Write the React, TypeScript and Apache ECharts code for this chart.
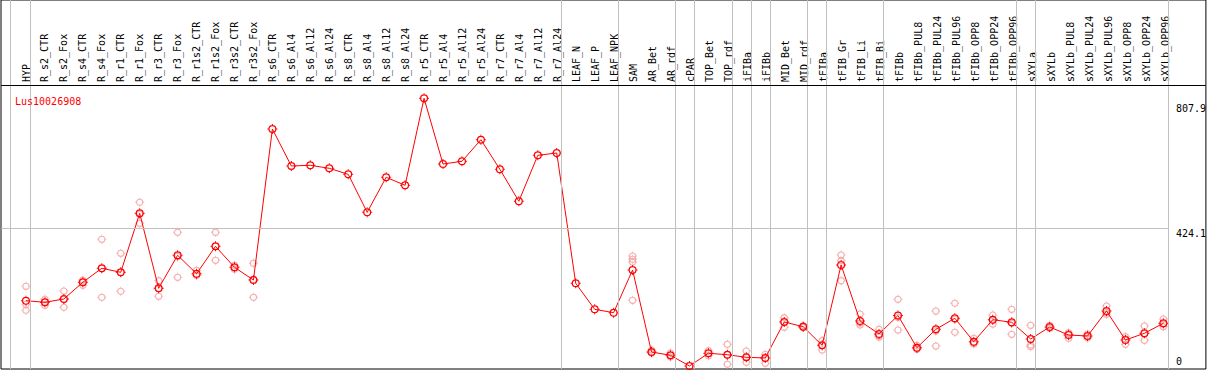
import React, { useEffect, useRef } from "react";
import * as echarts from "echarts";

const title = "Lus10026908";

const categories = [
  "HYP", "R_s2_CTR", "R_s2_Fox", "R_s4_CTR", "R_s4_Fox", "R_r1_CTR", "R_r1_Fox", "R_r3_CTR", "R_r3_Fox",
  "R_r1s2_CTR", "R_r1s2_Fox", "R_r3s2_CTR", "R_r3s2_Fox", "R_s6_CTR", "R_s6_Al4", "R_s6_Al12", "R_s6_Al24",
  "R_s8_CTR", "R_s8_Al4", "R_s8_Al12", "R_s8_Al24", "R_r5_CTR", "R_r5_Al4", "R_r5_Al12", "R_r5_Al24",
  "R_r7_CTR", "R_r7_Al4", "R_r7_Al12", "R_r7_Al24", "LEAF_N", "LEAF_P", "LEAF_NPK", "SAM", "AR_Bet", "AR_rdf",
  "cPAR", "TOP_Bet", "TOP_rdf", "iFIBa", "iFIBb", "MID_Bet", "MID_rdf", "tFIBa", "tFIB_Gr", "tFIB_Li", "tFIB_Bi",
  "tFIBb", "tFIBb_PUL8", "tFIBb_PUL24", "tFIBb_PUL96", "tFIBb_OPP8", "tFIBb_OPP24", "tFIBb_OPP96",
  "sXYLa", "sXYLb", "sXYLb_PUL8", "sXYLb_PUL24", "sXYLb_PUL96", "sXYLb_OPP8", "sXYLb_OPP24", "sXYLb_OPP96",
];

const meanValues = [
  201.4, 196.4, 206.6, 258.1, 301.3, 288.9, 470.9, 239.6, 341.4, 284.6, 369.1, 304.3, 265.2,
  730.8, 616.7, 618.9, 609.6, 591.1, 473.9, 581.9, 557.2, 825.5, 622.9, 631.2, 697.8, 606.5, 507.9, 649.7, 656.8,
  255.0, 174.8, 164.4, 296.0,
  43.2, 33.0, 0, 39.2, 34.8, 26.8, 24.7, 135.7, 121.2, 63.8, 311.4, 138.8, 98.7,
  155.7, 56.4, 113.2, 147.1, 74.9, 142.8, 134.8, 83.3, 120.3, 95.6, 92.5, 169.6, 80.2, 100.8, 131.7,
];

const replicateValues: number[][] = [
  [245.8, 190, 171.8], [205.7, 197, 187.2], [231.3, 206, 181.0], [265.2, 259, 248.8],
  [390.7, 301, 211.8], [347.5, 289, 230.3], [504.8, 468, 440.0], [263.0, 240, 214.9],
  [412.3, 338, 273.5], [295.1, 280, 279.7], [412.3, 369, 325.9], [310.5, 304, 298.2],
  [316.7, 267, 211.8],
  [], [], [], [], [], [], [], [], [], [], [], [], [], [], [], [], [], [], [],
  [339.2, 329.0, 320.7, 202.6],
  [49.3, 43, 40.1], [40.1, 33, 27.8], [], [47.2, 39, 31.8], [66.9, 34.8, 5.2],
  [46.3, 26.8, 11.4], [36.1, 24.7, 8.3], [148.9, 136, 119.3], [124.9, 121, 118.7],
  [78.0, 64, 49.3], [342.3, 324.7, 263.0], [160.3, 132.6, 126.4], [113.2, 93.4, 89.4],
  [205.7, 150.4, 111.0], [63.2, 54, 52], [169.6, 108.3, 61.7], [193.3, 144.1, 103.9],
  [85.4, 71.5, 67.8], [157.3, 141.6, 129.5], [174.8, 131.9, 97.7],
  [125.5, 64.9, 59.5], [125.5, 119.2, 116.2], [102.7, 98.7, 85.4], [98.7, 92.5, 86.3],
  [185.0, 164.4, 159.4], [90.3, 83.4, 66.9], [123.3, 99.9, 79.2], [144.9, 129, 121.2],
];

const groupEnds = [
  "HYP", "R_r7_Al24", "LEAF_NPK", "AR_rdf", "cPAR", "TOP_rdf", "iFIBa", "iFIBb",
  "MID_rdf", "tFIBa", "tFIB_Bi", "tFIBb_OPP96", "sXYLa", "sXYLb_OPP96",
];

const yTickLabels = [0, 424.1, 807.9];
const referenceLine = 424.1;

// layout (pixels)
const W = 1209;
const H = 370;
const frameL = 1, frameR = 1208, frameT = 0, frameB = 369;
const catStart = 26;
const catStep = 18.99;
const zeroPx = 366;
const pxPerUnit = 0.3243;
const headerPx = 85;
const sepOffset = 0.237;
const leadSepPx = 10.5;

const MARKER =
  "path://M1 5A4 4 0 1 1 9 5A4 4 0 1 1 1 5ZM2.2 5A2.8 2.8 0 1 0 7.8 5A2.8 2.8 0 1 0 2.2 5Z" +
  "M4.5 0H5.5V1.2H4.5ZM4.5 8.8H5.5V10H4.5ZM0 4.5H1.2V5.5H0ZM8.8 4.5H10V5.5H8.8Z";

const FONT = "DejaVu Sans Mono";

export default function App() {
  const ref = useRef<HTMLDivElement>(null);
  useEffect(() => {
    document.body.style.margin = "0";
    if (!ref.current) return;
    const chart = echarts.init(ref.current, undefined, { renderer: "svg" });

    const xMin = (frameL - catStart) / catStep;
    const xMax = (frameR - catStart) / catStep;
    const yMax = (zeroPx - frameT) / pxPerUnit;
    const yMin = (zeroPx - frameB) / pxPerUnit;
    const yHeader = (zeroPx - headerPx) / pxPerUnit;

    const sepPositions = [(leadSepPx - catStart) / catStep].concat(
      groupEnds.map((n) => categories.indexOf(n) + sepOffset)
    );
    const lastSep = sepPositions[sepPositions.length - 1];

    const meanData = meanValues.map((v, i) => [i, v]);
    const repData: number[][] = [];
    replicateValues.forEach((arr, i) => arr.forEach((v) => repData.push([i, v])));

    const option: any = {
      animation: false,
      title: {
        text: title,
        left: 10,
        top: 91,
        textStyle: { color: "#ff0000", fontSize: 10, fontFamily: FONT, fontWeight: "normal" },
      },
      grid: [
        {
          left: frameL, top: frameT, width: frameR - frameL, height: frameB - frameT,
          show: true, borderColor: "#000", borderWidth: 1, backgroundColor: "transparent",
        },
        {
          left: catStart - catStep / 2, top: 0, width: categories.length * catStep, height: headerPx,
          show: false,
        },
      ],
      xAxis: [
        { type: "value", gridIndex: 0, min: xMin, max: xMax, show: false },
        {
          type: "category", gridIndex: 1, data: categories, position: "bottom",
          axisLine: { show: false, onZero: false }, axisTick: { show: false }, splitLine: { show: false },
          axisLabel: {
            inside: true, rotate: 90, margin: 3, interval: 0, align: "left", verticalAlign: "middle",
            color: "#000", fontSize: 10, fontFamily: FONT,
          },
        },
      ],
      yAxis: [
        {
          type: "value", gridIndex: 0, min: yMin, max: yMax, position: "right",
          axisLine: { show: false }, axisTick: { show: false }, splitLine: { show: false },
          axisLabel: {
            inside: true, margin: 30, align: "left", verticalAlign: "top",
            customValues: yTickLabels.filter((v) => v !== 0),
            color: "#000", fontSize: 10, fontFamily: FONT,
            formatter: (v: number) => String(v),
          },
        },
        {
          type: "value", gridIndex: 0, min: yMin, max: yMax, position: "right",
          axisLine: { show: false }, axisTick: { show: false }, splitLine: { show: false },
          axisLabel: {
            inside: true, margin: 30, align: "left", verticalAlign: "bottom",
            customValues: yTickLabels.filter((v) => v === 0),
            color: "#000", fontSize: 10, fontFamily: FONT,
            formatter: (v: number) => String(v),
          },
        },
        { type: "value", gridIndex: 1, min: 0, max: 1, show: false },
      ],
      series: [
        {
          type: "line", xAxisIndex: 0, yAxisIndex: 0, data: [], silent: true, z: 1,
          markLine: {
            silent: true, symbol: ["none", "none"], animation: false,
            label: { show: false },
            lineStyle: { color: "#c0c0c0", width: 1, type: "solid" },
            data: [
              ...sepPositions.map((p) => ({ xAxis: p })),
              [{ coord: [xMin + 0.01, referenceLine] }, { coord: [lastSep, referenceLine] }],
              [
                { coord: [xMin + 0.01, yHeader], lineStyle: { color: "#000", width: 1, type: "solid" } },
                { coord: [xMax - 0.01, yHeader] },
              ],
            ],
          },
        },
        {
          type: "scatter", xAxisIndex: 0, yAxisIndex: 0, data: repData, z: 2,
          symbol: MARKER, symbolSize: 9,
          itemStyle: { color: "#f29a9a", borderWidth: 0 },
          silent: true,
        },
        {
          type: "line", xAxisIndex: 0, yAxisIndex: 0, data: meanData, z: 3,
          symbol: MARKER, symbolSize: 10, showAllSymbol: true,
          lineStyle: { color: "#ff0000", width: 1 },
          itemStyle: { color: "#ff0000", borderWidth: 0 },
          silent: true,
        },
        { type: "scatter", xAxisIndex: 1, yAxisIndex: 2, data: [], silent: true },
      ],
    };
    chart.setOption(option);
    return () => chart.dispose();
  }, []);
  return <div ref={ref} style={{ width: W, height: H }} />;
}
